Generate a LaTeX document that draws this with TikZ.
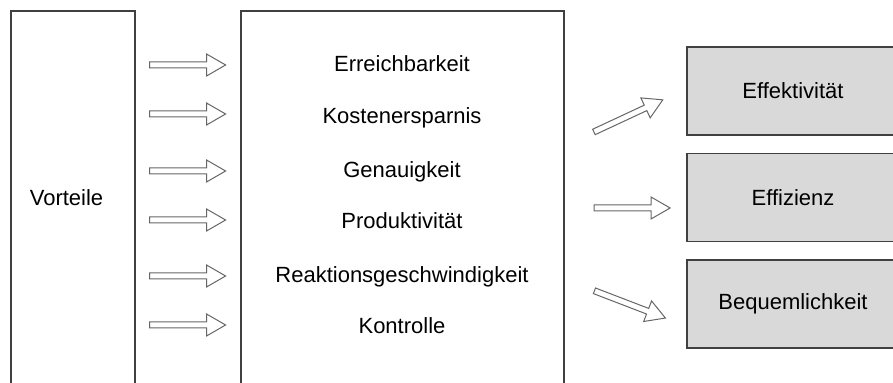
\documentclass[tikz,border=0pt]{standalone}
\usepackage{fontspec}
\setmainfont{Liberation Sans}
\usetikzlibrary{shapes.arrows}

\tikzset{
  box/.style={draw=black!75, line width=0.8pt, anchor=north west, inner sep=0pt},
  goal/.style={draw=black!75, line width=0.8pt, fill=black!15, minimum width=106pt, minimum height=44pt},
  hollow/.style={single arrow, draw=black!60, line width=0.5pt, fill=white, inner sep=1.25pt,
    minimum height=38pt, single arrow head extend=4pt, single arrow tip angle=60}
}

\begin{document}
\begin{tikzpicture}[x=0.5pt,y=-0.5pt,font=\fontsize{11}{13}\selectfont]
\useasboundingbox (0,0) rectangle (893,383);
\node[box, minimum width=62pt, minimum height=189pt] (vorteile) at (10,10) {};
\node[anchor=base] (vlabel) at (66.5,206) {Vorteile};
\node[box, minimum width=161.5pt, minimum height=189pt] (mitte) at (240,10) {};
\foreach \nm/\lbl/\yy/\ya in {erreich/Erreichbarkeit/72/65, kosten/Kostenersparnis/123.5/114,
    genau/Genauigkeit/177.5/171, produkt/Produktivität/228.5/220,
    reakt/Reaktionsgeschwindigkeit/283/276, kontr/Kontrolle/333.5/325}
{
  \node[anchor=base] (\nm) at (402,\yy) {\lbl};
  \node[hollow] (p\nm) at (185,\ya) {};
}
\node[goal] (effekt) at (793,91) {Effektivität};
\node[goal] (effiz) at (793,197.5) {Effizienz};
\node[goal] (bequem) at (793,304) {Bequemlichkeit};
\node[hollow, rotate=25] (qeffekt) at (626,117) {};
\node[hollow] (qeffiz) at (629.5,208) {};
\node[hollow, rotate=-21] (qbequem) at (627.5,303.5) {};
\end{tikzpicture}
\end{document}
